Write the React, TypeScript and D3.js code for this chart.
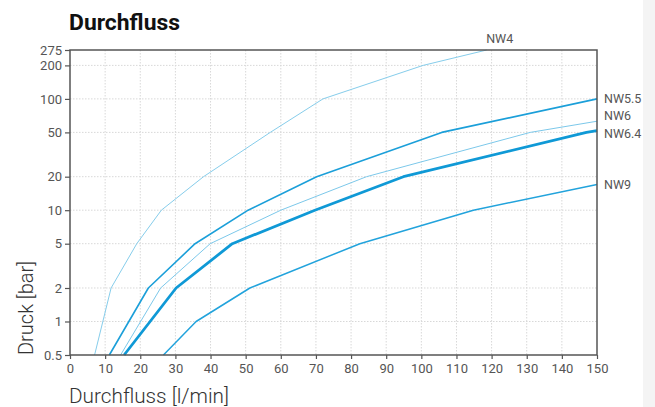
import React, { useEffect, useRef } from "react";
import * as d3 from "d3";

// flow [l/min] vs pressure [bar], one array per nozzle
const nw4: [number, number][] = [[7, 0.5], [11.7, 2], [19, 5], [26, 10], [38, 20], [57, 50], [72, 100], [100.5, 200], [118.6, 275]];
const nw55: [number, number][] = [[11.2, 0.5], [22.3, 2], [35.6, 5], [50.7, 10], [70.2, 20], [105.8, 50], [150, 100]];
const nw6: [number, number][] = [[14.4, 0.5], [25.8, 2], [39.9, 5], [60, 10], [84.4, 20], [131, 50], [150, 63]];
const nw64: [number, number][] = [[15.4, 0.5], [30.2, 2], [46.2, 5], [69.7, 10], [94.9, 20], [147, 50], [150, 52]];
const nw9: [number, number][] = [[26.6, 0.5], [35.9, 1], [51.2, 2], [82.5, 5], [114.8, 10], [150, 17]];

const xTicks = [0, 10, 20, 30, 40, 50, 60, 70, 80, 90, 100, 110, 120, 130, 140, 150];
const yTicks = [0.5, 1, 2, 5, 10, 20, 50, 100, 200, 275];

const series = [
  { name: "NW4", data: nw4, color: "#86cdeb", width: 1 },
  { name: "NW5.5", data: nw55, color: "#1b9fd9", width: 1.6 },
  { name: "NW6", data: nw6, color: "#7cc8ea", width: 1 },
  { name: "NW6.4", data: nw64, color: "#0f99d6", width: 2.8 },
  { name: "NW9", data: nw9, color: "#22a3dc", width: 1.5 },
];

const App = () => {
  const ref = useRef<SVGSVGElement>(null);

  useEffect(() => {
    const svg = d3.select(ref.current);
    svg.selectAll("*").remove();

    const left = 70, right = 597, top = 50, bottom = 355;
    const x = d3.scaleLinear().domain([0, 150]).range([left, right]);
    const y = d3.scaleLog().domain([0.5, 275]).range([bottom, top]);
    const font = "Roboto, 'Open Sans', sans-serif";

    svg.append("rect").attr("x", 643).attr("y", 0).attr("width", 12).attr("height", 407).attr("fill", "#f4f4f4");

    // title
    svg.append("text")
      .attr("x", 69).attr("y", 30)
      .attr("font-family", font).attr("font-weight", 700).attr("font-size", 22)
      .attr("textLength", 111).attr("lengthAdjust", "spacingAndGlyphs")
      .attr("fill", "#111")
      .text("Durchfluss");

    // grid
    const grid = svg.append("g").attr("stroke", "#d8d8d8").attr("stroke-dasharray", "1.5,1.5").attr("stroke-width", 1);
    xTicks.slice(1, -1).forEach((t) => {
      grid.append("line").attr("x1", x(t)).attr("x2", x(t)).attr("y1", top).attr("y2", bottom);
    });
    yTicks.slice(1, -1).forEach((t) => {
      grid.append("line").attr("x1", left).attr("x2", right).attr("y1", y(t)).attr("y2", y(t));
    });

    // curves
    const line = d3.line<[number, number]>().x((d) => x(d[0])).y((d) => y(d[1]));
    series.forEach((s) => {
      svg.append("path")
        .datum(s.data)
        .attr("fill", "none")
        .attr("stroke", s.color)
        .attr("stroke-width", s.width)
        .attr("stroke-linejoin", "round")
        .attr("d", line);
    });

    // frame
    svg.append("rect")
      .attr("x", left).attr("y", top).attr("width", right - left).attr("height", bottom - top)
      .attr("fill", "none").attr("stroke", "#555").attr("stroke-width", 1.5);

    // axes
    const xAxis = svg.append("g").attr("transform", `translate(0,${bottom})`)
      .call(d3.axisBottom(x).tickValues(xTicks).tickSize(4).tickPadding(5).tickFormat(d3.format("d")));
    const yAxis = svg.append("g").attr("transform", `translate(${left},0)`)
      .call(d3.axisLeft(y).tickValues(yTicks).tickSize(5).tickPadding(3).tickFormat((d) => String(d)));
    [xAxis, yAxis].forEach((a) => {
      a.select(".domain").remove();
      a.selectAll("line").attr("stroke", "#555").attr("stroke-width", 1.2);
      a.selectAll("text").attr("font-family", font).attr("font-size", 13).attr("fill", "#555");
    });

    // series labels
    const lab = svg.append("g").attr("font-family", font).attr("font-size", 12.5).attr("fill", "#555");
    lab.append("text").attr("x", x(118.6) + 13).attr("y", 43).attr("text-anchor", "middle").text("NW4");
    lab.append("text").attr("x", right + 7).attr("y", y(100) + 4).text("NW5.5");
    lab.append("text").attr("x", right + 7).attr("y", y(63) - 1).text("NW6");
    lab.append("text").attr("x", right + 7).attr("y", y(52) + 7).text("NW6.4");
    lab.append("text").attr("x", right + 7).attr("y", y(17) + 4).text("NW9");

    // axis titles
    svg.append("text")
      .attr("x", 69).attr("y", 403)
      .attr("font-family", font).attr("font-weight", 300).attr("font-size", 20).attr("fill", "#333")
      .attr("textLength", 160).attr("lengthAdjust", "spacingAndGlyphs")
      .text("Durchfluss [l/min]");
    svg.append("text")
      .attr("transform", `translate(33,308) rotate(-90)`)
      .attr("text-anchor", "middle")
      .attr("font-family", font).attr("font-weight", 300).attr("font-size", 20).attr("fill", "#333")
      .text("Druck [bar]");
  }, []);

  return <svg ref={ref} width={655} height={407} style={{ position: "absolute", left: 0, top: 0, background: "#fff" }} />;
};

export default App;
